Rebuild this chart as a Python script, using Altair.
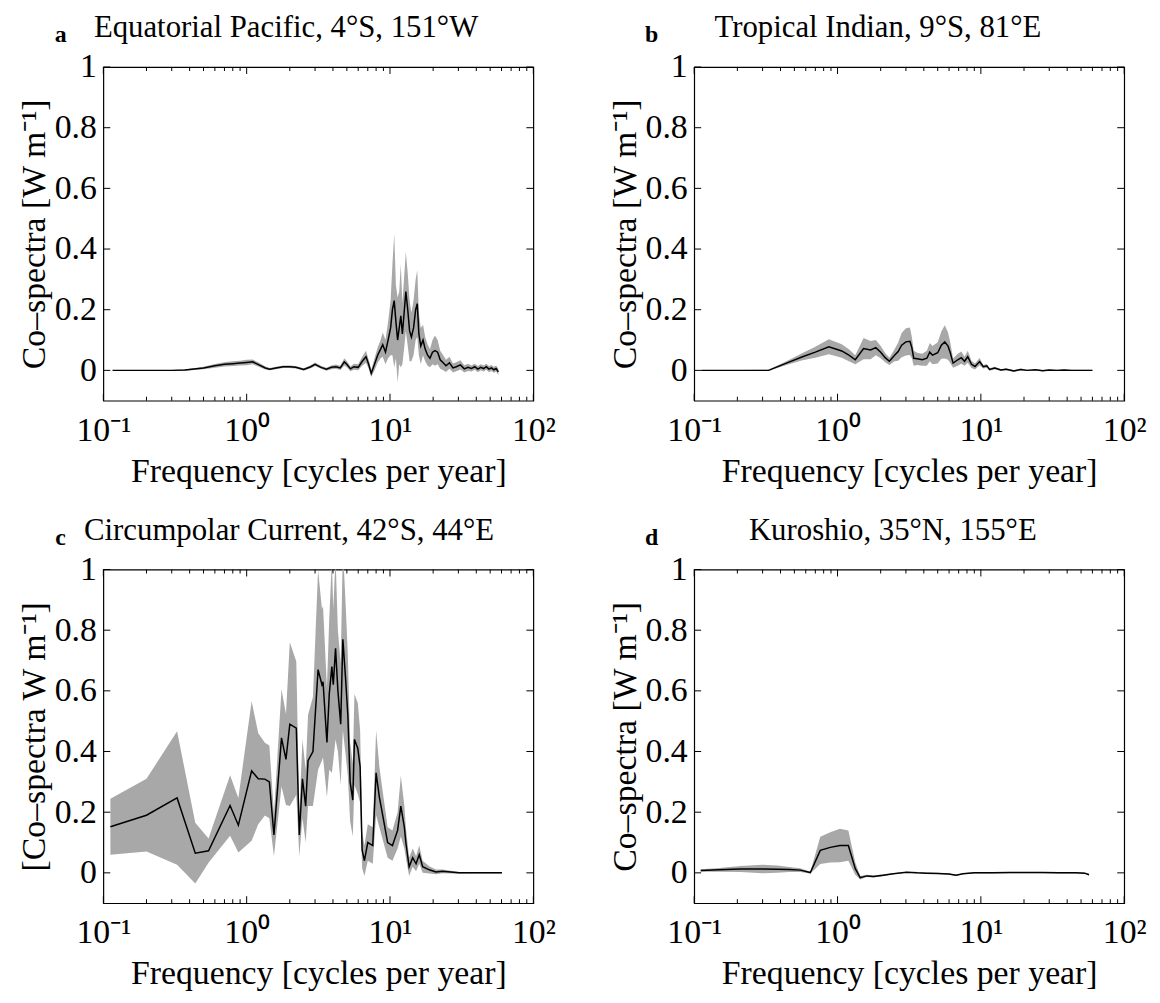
import altair as alt
import pandas as pd

# ---------------- data ----------------
A_freq = [0.116, 0.2, 0.3, 0.37, 0.5, 0.6, 0.7, 0.8, 0.9, 1.0,
          1.1, 1.2, 1.35, 1.45, 1.6, 1.8, 2.0, 2.2, 2.5, 2.8,
          3.0, 3.3, 3.6, 3.9, 4.2, 4.5, 4.8, 5.0, 5.3, 5.6,
          6.0, 6.4, 6.8, 7.1, 7.4, 7.8, 8.2, 8.6, 8.9, 9.3,
          9.7, 10.1, 10.4, 10.7, 11.0, 11.3, 11.6, 11.9, 12.2, 12.6,
          12.9, 13.3, 13.7, 14.1, 14.6, 15.1, 15.5, 15.9, 16.4, 17.0,
          17.6, 18.3, 19.0, 19.8, 20.6, 21.5, 22.4, 23.5, 24.6, 26,
          27.5, 29, 31, 33, 35, 37, 39, 41, 43, 45,
          47, 49, 51, 53, 55, 57]
A_mean = [0, 0, 0, 0.001, 0.008, 0.015, 0.02, 0.022, 0.024, 0.026,
          0.028, 0.02, 0.008, 0.004, 0.008, 0.012, 0.012, 0.01, 0.003, 0.012,
          0.02, 0.01, 0.004, 0.01, 0.012, 0.008, 0.028, 0.02, 0.005, 0.012,
          0.01, 0.03, 0.045, 0.02, -0.01, 0.02, 0.05, 0.07, 0.085, 0.06,
          0.1, 0.14, 0.2, 0.23, 0.16, 0.1, 0.14, 0.18, 0.12, 0.2,
          0.26, 0.2, 0.13, 0.11, 0.14, 0.2, 0.22, 0.12, 0.08, 0.1,
          0.07, 0.05, 0.04, 0.06, 0.065, 0.06, 0.035, 0.025, 0.015, 0.025,
          0.008, 0.012, 0.018, 0.005, 0.01, 0.006, 0.012, 0.004, 0.01, 0.006,
          0.012, 0.004, 0.008, 0.002, 0.006, -0.005]
A_spread = [0.001, 0.001, 0.001, 0.002, 0.004, 0.006, 0.007, 0.008, 0.008, 0.009,
            0.008, 0.007, 0.005, 0.004, 0.004, 0.004, 0.004, 0.004, 0.004, 0.005,
            0.006, 0.005, 0.005, 0.006, 0.007, 0.007, 0.012, 0.01, 0.008, 0.01,
            0.01, 0.015, 0.02, 0.015, 0.012, 0.02, 0.025, 0.03, 0.04, 0.04,
            0.06, 0.09, 0.15, 0.22, 0.12, 0.14, 0.12, 0.17, 0.1, 0.12,
            0.13, 0.12, 0.1, 0.08, 0.09, 0.1, 0.11, 0.07, 0.06, 0.05,
            0.04, 0.035, 0.03, 0.04, 0.05, 0.04, 0.03, 0.025, 0.02, 0.02,
            0.015, 0.015, 0.015, 0.012, 0.012, 0.01, 0.01, 0.01, 0.01, 0.01,
            0.01, 0.01, 0.01, 0.01, 0.01, 0.01]

B_freq = [0.112, 0.2, 0.33, 0.44, 0.57, 0.7, 0.87, 1.07, 1.2, 1.33,
          1.52, 1.7, 1.85, 2.0, 2.15, 2.3, 2.5, 2.65, 2.8, 3.0,
          3.2, 3.3, 3.4, 3.6, 3.9, 4.2, 4.4, 4.6, 5.0, 5.3,
          5.6, 5.9, 6.1, 6.4, 6.9, 7.3, 7.7, 8.1, 8.6, 9.1,
          9.8, 10.4, 11.0, 11.5, 12.5, 13.8, 15, 17, 19, 21,
          24, 27, 30, 34, 38, 43, 48, 54, 60]
B_mean = [0, 0, 0, 0.024, 0.045, 0.06, 0.078, 0.064, 0.05, 0.035,
          0.072, 0.067, 0.075, 0.06, 0.042, 0.03, 0.05, 0.062, 0.083, 0.094,
          0.096, 0.075, 0.04, 0.038, 0.035, 0.04, 0.06, 0.05, 0.058, 0.083,
          0.094, 0.08, 0.06, 0.024, 0.035, 0.042, 0.03, 0.045, 0.02, 0.013,
          0.029, 0.012, 0.015, 0.003, 0.008, 0.001, 0.004, -0.002, 0.003, 0.0,
          0.002, -0.001, 0.001, 0, 0.001, 0, 0, 0, 0]
B_spread = [0.001, 0.001, 0.002, 0.006, 0.012, 0.018, 0.025, 0.022, 0.02, 0.015,
            0.035, 0.03, 0.025, 0.02, 0.015, 0.012, 0.02, 0.03, 0.04, 0.045,
            0.045, 0.035, 0.025, 0.02, 0.02, 0.025, 0.03, 0.03, 0.035, 0.045,
            0.055, 0.045, 0.035, 0.015, 0.02, 0.02, 0.015, 0.02, 0.012, 0.01,
            0.012, 0.006, 0.006, 0.004, 0.004, 0.003, 0.003, 0.003, 0.003, 0.002,
            0.002, 0.002, 0.002, 0.002, 0.002, 0.002, 0.002, 0.002, 0.002]

C_freq = [0.112, 0.2, 0.327, 0.438, 0.542, 0.766, 0.875, 1.083, 1.205, 1.34,
          1.44, 1.55, 1.75, 1.88, 2.0, 2.22, 2.33, 2.45, 2.58, 2.68,
          2.9, 3.15, 3.35, 3.41, 3.63, 3.77, 3.93, 4.02, 4.17, 4.33,
          4.53, 4.69, 4.9, 5.08, 5.27, 5.5, 5.65, 5.96, 6.19, 6.39,
          6.63, 7.0, 7.58, 8.0, 8.43, 8.89, 9.63, 10.4, 11.3, 11.9,
          12.6, 12.9, 13.6, 14.4, 15.2, 16.0, 16.9, 18.8, 20.9, 23.2,
          30.3, 40, 60.4]
C_mean = [0.152, 0.19, 0.247, 0.065, 0.073, 0.222, 0.157, 0.336, 0.31, 0.309,
          0.30, 0.125, 0.445, 0.374, 0.49, 0.477, 0.125, 0.31, 0.22, 0.37,
          0.40, 0.67, 0.62, 0.63, 0.43, 0.59, 0.68, 0.62, 0.74, 0.6,
          0.49, 0.77, 0.64, 0.52, 0.30, 0.24, 0.44, 0.41, 0.35, 0.076,
          0.04, 0.10, 0.09, 0.33, 0.25, 0.19, 0.10, 0.09, 0.14, 0.22,
          0.15, 0.10, 0.02, 0.05, 0.03, 0.06, 0.02, 0.01, 0.003, 0.005,
          0.0, 0.0, 0.0]
C_spread = [0.092, 0.12, 0.22, 0.1, 0.04, 0.1, 0.09, 0.23, 0.15, 0.12,
            0.12, 0.07, 0.16, 0.15, 0.27, 0.22, 0.07, 0.13, 0.12, 0.15,
            0.18, 0.33, 0.25, 0.25, 0.18, 0.25, 0.35, 0.25, 0.3, 0.2,
            0.2, 0.3, 0.25, 0.2, 0.13, 0.12, 0.15, 0.15, 0.12, 0.06,
            0.05, 0.06, 0.06, 0.14, 0.1, 0.08, 0.05, 0.05, 0.06, 0.1,
            0.07, 0.05, 0.03, 0.03, 0.025, 0.03, 0.02, 0.012, 0.008, 0.006,
            0.003, 0.002, 0.002]

D_freq = [0.111, 0.15, 0.21, 0.3, 0.38, 0.46, 0.55, 0.646, 0.758, 0.89,
          1.04, 1.19, 1.33, 1.44, 1.6, 1.78, 2.08, 2.45, 3.03, 3.6,
          4.17, 5.0, 6.0, 6.7, 7.5, 9, 12, 16, 20, 27,
          35, 46, 53, 56.8]
D_mean = [0.008, 0.01, 0.013, 0.013, 0.012, 0.011, 0.009, 0.001, 0.074, 0.084,
          0.09, 0.09, 0.014, -0.016, -0.01, -0.012, -0.008, -0.003, 0.002, 0.0,
          -0.001, -0.002, -0.004, -0.008, -0.003, 0.0, 0.0, 0.001, 0.001, 0.001,
          0.0, 0.0, -0.001, -0.006]
D_spread = [0.004, 0.006, 0.01, 0.014, 0.012, 0.008, 0.006, 0.003, 0.045, 0.05,
            0.055, 0.05, 0.02, 0.006, 0.004, 0.003, 0.003, 0.002, 0.002, 0.002,
            0.002, 0.002, 0.002, 0.002, 0.002, 0.002, 0.002, 0.002, 0.002, 0.002,
            0.002, 0.002, 0.002, 0.003]

X_DECADES = [0.1, 1, 10, 100]
X_MINOR = [0.2, 0.3, 0.4, 0.5, 0.6, 0.7, 0.8, 0.9,
           2, 3, 4, 5, 6, 7, 8, 9,
           20, 30, 40, 50, 60, 70, 80, 90]
Y_TICKS = [0, 0.2, 0.4, 0.6, 0.8, 1]
X_LABELS = ("datum.value == 0.1 ? '10⁻¹' : datum.value == 1 ? '10⁰' : "
            "datum.value == 10 ? '10¹' : '10²'")

FONT = "Liberation Serif"
W, H = 433, 336
XS = alt.Scale(type="log", domain=[0.1, 100], nice=False)
YS = alt.Scale(domain=[-0.1, 1], nice=False, zero=False)
XAX = alt.Axis(values=X_DECADES, labelExpr=X_LABELS,
               title="Frequency [cycles per year]", labelFlush=False,
               labelOverlap=False, labelPadding=13, titlePadding=7,
               ticks=False, domain=False, grid=False)


def y_axis(ytitle):
    return alt.Axis(values=Y_TICKS, format="~g", title=ytitle,
                    labelPadding=7, titlePadding=3, ticks=False,
                    domain=False, grid=False)


def panel(letter, title, title_x, ytitle, freq, mean, spread):
    yax = y_axis(ytitle)
    df = pd.DataFrame({
        "f": freq,
        "m": mean,
        "lo": [m - s for m, s in zip(mean, spread)],
        "hi": [m + s for m, s in zip(mean, spread)],
    })
    base = alt.Chart(df)
    band = base.mark_area(color="#a8a8a8", clip=True).encode(
        x=alt.X("f:Q", scale=XS, axis=XAX),
        y=alt.Y("lo:Q", scale=YS, axis=yax),
        y2="hi:Q",
    )
    line = base.mark_line(color="black", strokeWidth=1.5, clip=True).encode(
        x=alt.X("f:Q", scale=XS, axis=XAX),
        y=alt.Y("m:Q", scale=YS, axis=yax),
    )
    minor = alt.Chart(pd.DataFrame({"v": X_MINOR}))
    major = alt.Chart(pd.DataFrame({"v": X_DECADES}))
    yt = alt.Chart(pd.DataFrame({"v": Y_TICKS}))
    rs = dict(color="black", strokeWidth=1)
    ticks = [
        minor.mark_rule(**rs).encode(x=alt.X("v:Q", scale=XS, axis=XAX),
                                     y=alt.value(H), y2=alt.value(H - 4)),
        minor.mark_rule(**rs).encode(x=alt.X("v:Q", scale=XS, axis=XAX),
                                     y=alt.value(0), y2=alt.value(4)),
        major.mark_rule(**rs).encode(x=alt.X("v:Q", scale=XS, axis=XAX),
                                     y=alt.value(H), y2=alt.value(H - 7)),
        major.mark_rule(**rs).encode(x=alt.X("v:Q", scale=XS, axis=XAX),
                                     y=alt.value(0), y2=alt.value(7)),
        yt.mark_rule(**rs).encode(y=alt.Y("v:Q", scale=YS, axis=yax),
                                  x=alt.value(0), x2=alt.value(7)),
        yt.mark_rule(**rs).encode(y=alt.Y("v:Q", scale=YS, axis=yax),
                                  x=alt.value(W), x2=alt.value(W - 7)),
    ]
    txt = alt.Chart(alt.Data(values=[{"letter": letter, "title": title}]))
    lab = txt.mark_text(
        font=FONT, fontSize=24, fontWeight="bold", color="black",
        baseline="middle", align="center",
    ).encode(text="letter:N", x=alt.value(-43), y=alt.value(-32))
    ttl = txt.mark_text(
        font=FONT, fontSize=31, color="black",
        baseline="middle", align="center",
    ).encode(text="title:N", x=alt.value(title_x), y=alt.value(-39))
    return alt.layer(band, line, *ticks, lab, ttl).properties(width=W, height=H)


pa = panel("a", "Equatorial Pacific, 4°S, 151°W", 184, "Co–spectra [W m⁻¹]", A_freq, A_mean, A_spread)
pb = panel("b", "Tropical Indian, 9°S, 81°E", 185, "Co–spectra [W m⁻¹]", B_freq, B_mean, B_spread)
pc = panel("c", "Circumpolar Current, 42°S, 44°E", 187, "[Co–spectra W m⁻¹]", C_freq, C_mean, C_spread)
pd_ = panel("d", "Kuroshio, 35°N, 155°E", 200, "Co–spectra [W m⁻¹]", D_freq, D_mean, D_spread)

chart = alt.concat(
    pa, pb, pc, pd_, columns=2,
    spacing=alt.RowColnumber(row=170, column=162),
    bounds="flush",
).properties(
    padding={"left": 8, "top": 0, "right": 5, "bottom": 0},
).configure(background="white").configure_view(
    stroke="black", strokeWidth=1.2
).configure_axis(
    labelFont=FONT, labelFontSize=34, labelColor="black",
    titleFont=FONT, titleFontSize=34, titleFontWeight="normal", titleColor="black",
    grid=False,
)

chart.save("out.html", embed_options={"renderer": "svg", "actions": False})
